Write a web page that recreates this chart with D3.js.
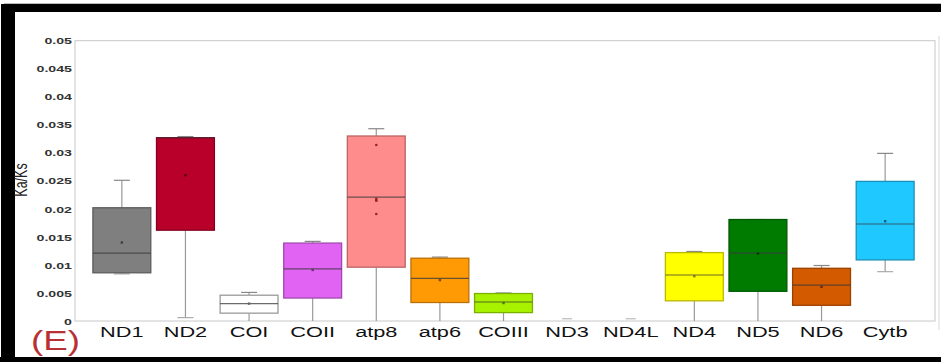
<!DOCTYPE html>
<html>
<head>
<meta charset="utf-8">
<script src="https://cdn.jsdelivr.net/npm/d3@7"></script>
<style>
  html, body { margin: 0; padding: 0; background: #fff; }
  svg { display: block; }
  text { font-family: Arial, "Liberation Sans", sans-serif; }
</style>
</head>
<body>
<svg id="chart" width="941" height="362"></svg>
<script>
// Ka/Ks ratios of the 13 mitochondrial protein-coding genes
const categories = ["ND1", "ND2", "COI", "COII", "atp8", "atp6", "COIII", "ND3", "ND4L", "ND4", "ND5", "ND6", "Cytb"];
const whiskerLow  = [0.0084, 0.0006, 0.0,    0.0,    0.0,    0.0,    0.0,    0.0,    0.0,    0.0,    0.0,    0.0,    0.0088];
const q1          = [0.0086, 0.0162, 0.0014, 0.0041, 0.0096, 0.0033, 0.0015, 0.0,    0.0,    0.0036, 0.0053, 0.0028, 0.0109];
const medians     = [0.0121, 0.0327, 0.0031, 0.0093, 0.0221, 0.0076, 0.0034, 0.0,    0.0,    0.0082, 0.0121, 0.0064, 0.0173];
const q3          = [0.0202, 0.0327, 0.0046, 0.0139, 0.0330, 0.0112, 0.0049, 0.0001, 0.0001, 0.0122, 0.0181, 0.0094, 0.0249];
const whiskerHigh = [0.0251, 0.0329, 0.0051, 0.0142, 0.0343, 0.0114, 0.0050, 0.0004, 0.0004, 0.0124, 0.0181, 0.0099, 0.0299];
const means       = [0.0140, 0.0260, 0.0031, 0.0091, 0.0215, 0.0073, 0.0032, null,   null,   0.0080, 0.0120, 0.0061, 0.0178];
const boxColors   = ["#7f7f7f", "#b8002b", "#ffffff", "#e063f3", "#ff8c8c", "#ff9a05", "#a8f200", "#ffffff", "#ffffff", "#ffff00", "#007b00", "#d45a00", "#1fc8ff"];
// individual atp8 values shown as points inside its box
const atp8Points  = [0.0314, 0.0218, 0.0215, 0.0191];
const yTicks      = [0, 0.005, 0.01, 0.015, 0.02, 0.025, 0.03, 0.035, 0.04, 0.045, 0.05];
const yTickLabels = ["0", "0.005", "0.01", "0.015", "0.02", "0.025", "0.03", "0.035", "0.04", "0.045", "0.05"];
const yTitle = "Ka/Ks";
const panelTag = "(E)";

const svg = d3.select("#chart");
const W = 941, H = 362;
const plot = { left: 75, right: 935, top: 40.7, bottom: 321 };
const stretch = 1.45; // text is set wide

// outer black frame
const frame = svg.append("g");
frame.append("rect").attr("x", 4).attr("y", 4).attr("width", W - 4).attr("height", 8).attr("fill", "#000");
frame.append("rect").attr("x", 1).attr("y", 4).attr("width", 14).attr("height", H - 4).attr("fill", "#000");
frame.append("rect").attr("x", 0).attr("y", 357).attr("width", W).attr("height", 5).attr("fill", "#000");
frame.append("line").attr("x1", 4).attr("x2", W).attr("y1", 3.5).attr("y2", 3.5).attr("stroke", "#bbb");

const x = d3.scaleBand()
  .domain(categories)
  .range([92.9, 914.1])
  .paddingInner(0.09)
  .paddingOuter(0);

const y = d3.scaleLinear().domain([0, 0.05]).range([plot.bottom, plot.top]);

// plot frame
svg.append("rect")
  .attr("x", plot.left).attr("y", plot.top)
  .attr("width", plot.right - plot.left).attr("height", plot.bottom - plot.top)
  .attr("fill", "none").attr("stroke", "#c8c8c8").attr("stroke-width", 1);
svg.append("line")
  .attr("x1", 939).attr("x2", 939).attr("y1", 36).attr("y2", 330)
  .attr("stroke", "#d8d8d8").attr("stroke-width", 1);

// y axis
const yAxis = svg.append("g")
  .attr("transform", `translate(${plot.left},0)`)
  .call(d3.axisLeft(y).tickValues(yTicks).tickSize(0).tickPadding(3)
    .tickFormat((d, i) => yTickLabels[i]));
yAxis.select(".domain").remove();
yAxis.selectAll("text")
  .attr("font-size", 9.8).attr("font-weight", "bold").attr("fill", "#333")
  .attr("transform", `scale(${stretch},1)`)
  .attr("x", -3 / stretch);

// x axis
const xAxis = svg.append("g")
  .attr("transform", `translate(0,${plot.bottom})`)
  .call(d3.axisBottom(x).tickSize(0).tickPadding(5));
xAxis.select(".domain").remove();
xAxis.selectAll("text")
  .attr("font-size", 15).attr("fill", "#111")
  .attr("transform", `scale(${stretch},1)`);

// y title
svg.append("text")
  .attr("transform", `translate(27,180) scale(${stretch},1) rotate(-90)`)
  .attr("text-anchor", "middle")
  .attr("font-size", 12.5).attr("fill", "#222")
  .text(yTitle);

// panel tag
svg.append("text")
  .attr("x", 31).attr("y", 350)
  .attr("font-size", 27).attr("fill", "#b83034")
  .attr("textLength", 49).attr("lengthAdjust", "spacingAndGlyphs")
  .text(panelTag);

// boxes
const bw = x.bandwidth();
const capW = 16;
const rows = categories.map((c, i) => ({
  c, i, lo: whiskerLow[i], q1: q1[i], med: medians[i], q3: q3[i], hi: whiskerHigh[i],
  mean: means[i], color: boxColors[i]
}));
const hasBody = d => d.q3 - d.q1 > 0.0005;

const g = svg.append("g");
const box = g.selectAll("g.box").data(rows).join("g").attr("class", "box")
  .attr("transform", d => `translate(${x(d.c) + bw / 2},0)`);

// whiskers
box.filter(hasBody).append("line")
  .attr("x1", 0).attr("x2", 0)
  .attr("y1", d => y(d.q3)).attr("y2", d => y(d.hi))
  .attr("stroke", "#9a9a9a").attr("stroke-width", 1.2);
box.filter(hasBody).append("line")
  .attr("x1", 0).attr("x2", 0)
  .attr("y1", d => y(d.lo)).attr("y2", d => y(d.q1))
  .attr("stroke", "#9a9a9a").attr("stroke-width", 1.2);
box.append("line")
  .attr("x1", d => hasBody(d) ? -capW / 2 : -5).attr("x2", d => hasBody(d) ? capW / 2 : 5)
  .attr("y1", d => y(d.hi)).attr("y2", d => y(d.hi))
  .attr("stroke", d => hasBody(d) ? "#888" : "#bbb").attr("stroke-width", 1.2);
box.filter(d => d.lo > 0).append("line")
  .attr("x1", -capW / 2).attr("x2", capW / 2)
  .attr("y1", d => y(d.lo)).attr("y2", d => y(d.lo))
  .attr("stroke", "#aaa").attr("stroke-width", 1.2);

// box bodies
box.filter(hasBody).append("rect")
  .attr("x", -bw / 2).attr("width", bw)
  .attr("y", d => y(d.q3)).attr("height", d => y(d.q1) - y(d.q3))
  .attr("fill", d => d.color)
  .attr("stroke", d => d.color === "#ffffff" ? "#9a9a9a" : d3.color(d.color).darker(0.9))
  .attr("stroke-width", 1.3);

// medians
box.filter(hasBody).append("line")
  .attr("x1", -bw / 2).attr("x2", bw / 2)
  .attr("y1", d => y(d.med)).attr("y2", d => y(d.med))
  .attr("stroke", "#3a3a3a").attr("stroke-opacity", 0.75).attr("stroke-width", 1.1);

// means
box.filter(d => d.mean != null).append("rect")
  .attr("x", -1.2).attr("width", 2.4)
  .attr("y", d => y(d.mean) - 1.2).attr("height", 2.4)
  .attr("fill", d => d.color === "#ffffff" ? "#666" : d3.color(d.color).darker(2));

// atp8 points
g.selectAll("circle.pt").data(atp8Points).join("circle").attr("class", "pt")
  .attr("cx", x("atp8") + bw / 2).attr("cy", d => y(d)).attr("r", 1.3)
  .attr("fill", "#a02020");
</script>
</body>
</html>
